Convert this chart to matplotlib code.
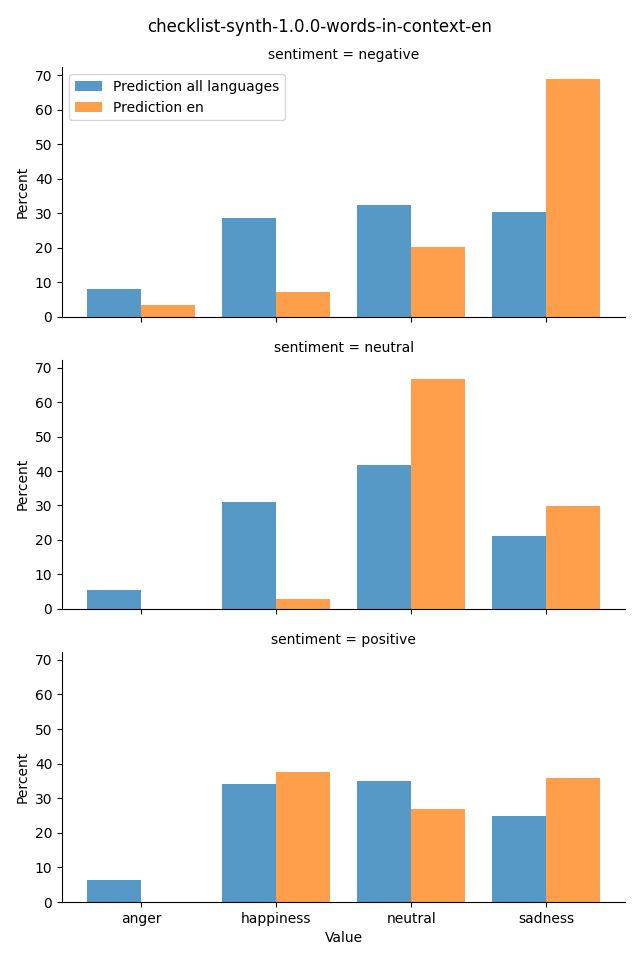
import numpy as np
import matplotlib
matplotlib.use("Agg")
import matplotlib.pyplot as plt

categories = ["anger", "happiness", "neutral", "sadness"]
sentiments = ["negative", "neutral", "positive"]
series_names = ["Prediction all languages", "Prediction en"]

# percent per sentiment panel
all_lang = {
    "negative": [8.1, 28.6, 32.4, 30.4],
    "neutral": [5.5, 31.1, 41.8, 21.2],
    "positive": [6.4, 34.0, 35.1, 25.0],
}
pred_en = {
    "negative": [3.5, 7.2, 20.2, 68.8],
    "neutral": [0.0, 2.9, 66.8, 29.9],
    "positive": [0.0, 37.5, 27.0, 35.7],
}

fig = plt.figure(figsize=(6.4, 9.6), dpi=100)
left, right = 0.097, 0.977
boxes = [(0.670, 0.930), (0.366, 0.625), (0.0604, 0.321)]

x = np.arange(len(categories))
w = 0.4
axes = []
for i, s in enumerate(sentiments):
    b, t = boxes[i]
    ax = fig.add_axes([left, b, right - left, t - b], sharey=axes[0] if axes else None)
    axes.append(ax)
    ax.bar(x - w / 2, all_lang[s], width=w, color="tab:blue", alpha=0.75,
           label=series_names[0], linewidth=0)
    ax.bar(x + w / 2, pred_en[s], width=w, color="tab:orange", alpha=0.75,
           label=series_names[1], linewidth=0)
    ax.set_xlim(-0.585, 3.585)
    ax.set_xticks(x)
    if i == 2:
        ax.set_xticklabels(categories)
        ax.set_xlabel("Value")
    else:
        ax.set_xticklabels([])
    ax.set_ylabel("Percent")
    ax.set_title("sentiment = " + s, fontsize=10)
    ax.spines["top"].set_visible(False)
    ax.spines["right"].set_visible(False)

axes[0].set_ylim(0, 72.3)
axes[0].set_yticks(np.arange(0, 71, 10))
axes[0].legend(loc="upper left")
fig.suptitle("checklist-synth-1.0.0-words-in-context-en", y=0.981, fontsize=12)

fig.savefig("out.png", dpi=100)
